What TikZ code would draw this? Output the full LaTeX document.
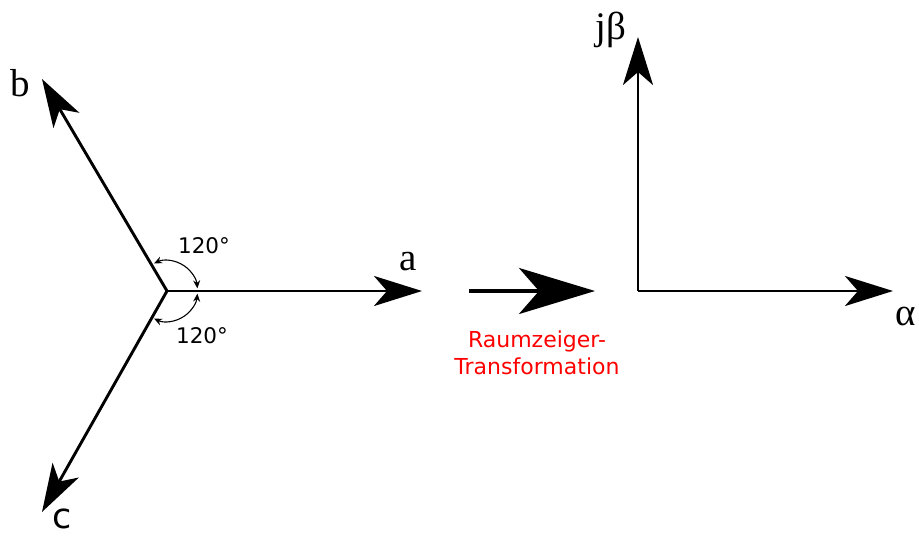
\documentclass[tikz,border=0pt]{standalone}
\usepackage{fontspec}
\setmainfont{Liberation Serif}
\newfontfamily\dejavu{DejaVu Sans}
\usetikzlibrary{arrows.meta}
\definecolor{labred}{RGB}{255,0,0}
\tikzset{
  axis/.style={line width=2.9pt, -{Stealth[length=48pt,width=30pt,inset=13pt]}},
  bigarrow/.style={line width=3.8pt, -{Stealth[length=76pt,width=46pt,inset=20pt]}},
  anglearc/.style={line width=1.1pt, {Stealth[length=8pt,width=7pt]}-{Stealth[length=8pt,width=7pt]}},
  serlabel/.style={inner sep=0pt, font=\fontsize{39}{43}\selectfont},
  anglabel/.style={inner sep=0pt, font=\dejavu\fontsize{21.5}{25}\selectfont},
  redlabel/.style={inner sep=0pt, align=center, text=labred, font=\dejavu\fontsize{22}{27}\selectfont}
}
\begin{document}
\begin{tikzpicture}[x=1pt,y=-1pt]
\useasboundingbox (0,0) rectangle (919,536);
% left star
\coordinate (O) at (167,291);
\coordinate (A) at (422,291);
\coordinate (B) at (42,79);
\coordinate (C) at (42,512);
\draw[axis] (O) -- (A);
\draw[axis] (O) -- (B);
\draw[axis] (O) -- (C);
\node[serlabel] (la) at (408,262) {a};
\node[serlabel] (lb) at (20,83) {b};
\node[serlabel, font=\dejavu\fontsize{35}{39}\selectfont] (lc) at (62,519) {c};
% angle arcs
\draw[anglearc] ([shift={(-115:30.5)}]O) arc[start angle=-115, end angle=-5, radius=30.5];
\draw[anglearc] ([shift={(115:30.5)}]O) arc[start angle=115, end angle=5, radius=30.5];
\node[anglabel] (t1) at (204,246) {120°};
\node[anglabel] (t2) at (202,336) {120°};
% transformation arrow
\coordinate (M1) at (469,291);
\coordinate (M2) at (595,291);
\draw[bigarrow] (M1) -- (M2);
\node[redlabel] (rt) at (537,353) {Raumzeiger-\\Transformation};
% right axes
\coordinate (P) at (638,291);
\coordinate (Al) at (893,291);
\coordinate (Be) at (638,37);
\draw[axis] (P) -- (Al);
\draw[axis] (P) -- (Be);
\node[serlabel] (lal) at (906,316) {α};
\node[serlabel] (lbe) at (611,30) {jβ};
\end{tikzpicture}
\end{document}
